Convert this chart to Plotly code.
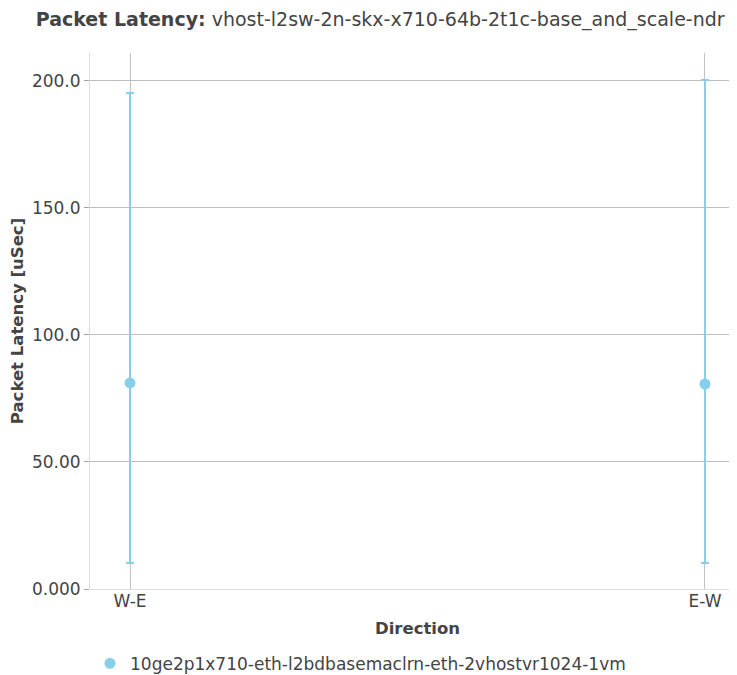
import plotly.graph_objects as go

directions = ["W-E", "E-W"]
lat_avg = [81.1, 80.7]
lat_max = [195.3, 200.4]
lat_min = [10.2, 10.2]
series_name = "10ge2p1x710-eth-l2bdbasemaclrn-eth-2vhostvr1024-1vm"
y_ticks = [0, 50, 100, 150, 200]

err_plus = [mx - a for mx, a in zip(lat_max, lat_avg)]
err_minus = [a - mn for mn, a in zip(lat_min, lat_avg)]

color = "rgb(135,206,235)"
font_family = "DejaVu Sans"
text_color = "rgb(68,68,68)"

fig = go.Figure()
fig.add_trace(go.Scatter(
    x=[0, 1],
    y=lat_avg,
    mode="markers",
    name=series_name,
    marker=dict(color=color, size=11),
    error_y=dict(type="data", symmetric=False, array=err_plus, arrayminus=err_minus,
                 color=color, thickness=2, width=4),
    showlegend=True,
))

fig.update_layout(
    width=737, height=675,
    margin=dict(l=82, r=0, t=45, b=94),
    paper_bgcolor="white",
    plot_bgcolor="white",
    font=dict(family=font_family, size=17, color=text_color),
    title=dict(
        text="<b>Packet Latency:</b> vhost-l2sw-2n-skx-x710-64b-2t1c-base_and_scale-ndr",
        x=0.505, xanchor="center", xref="container",
        y=1 - 11.5 / 675, yanchor="middle", yref="container",
        font=dict(size=19, family=font_family, color=text_color),
    ),
    xaxis=dict(
        tickmode="array", tickvals=[0, 1], ticktext=directions,
        range=[-0.0696, 1.0696],
        showgrid=True, gridcolor="rgb(195,195,195)", gridwidth=1,
        zeroline=False, showline=False, ticks="",
        title=dict(text="<b>Direction</b>", font=dict(size=16.5), standoff=12),
        tickfont=dict(size=17),
    ),
    yaxis=dict(
        range=[0, 211],
        tickmode="array", tickvals=y_ticks, tickformat=".4r",
        showgrid=True, gridcolor="rgb(190,190,190)", gridwidth=1,
        zeroline=True, zerolinecolor="rgb(220,220,220)", zerolinewidth=1,
        showline=True, linecolor="rgb(220,220,220)", linewidth=1,
        ticks="outside", ticklen=5, tickcolor="rgb(160,160,160)",
        title=dict(text="<b>Packet Latency [uSec]</b>", font=dict(size=16.5), standoff=6),
        tickfont=dict(size=17),
    ),
    legend=dict(
        orientation="h", x=0, xanchor="left", y=-0.106, yanchor="top",
        font=dict(size=17), bgcolor="rgba(0,0,0,0)",
    ),
)

fig.write_html("out.html")
